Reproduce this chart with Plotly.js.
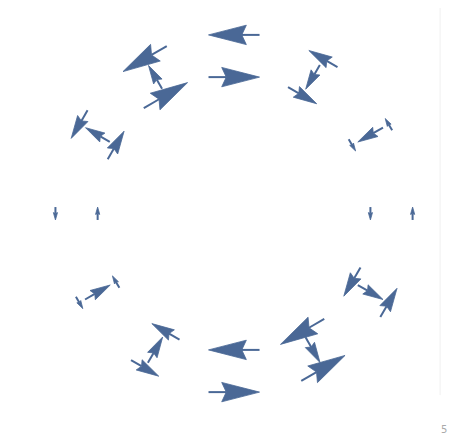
<!DOCTYPE html>
<html>
<head>
<meta charset="utf-8">
<script src="https://cdn.plot.ly/plotly-3.0.1.min.js"></script>
<style>
  html, body { margin: 0; padding: 0; background: #ffffff; }
  #chart { width: 450px; height: 441px; }
</style>
</head>
<body>
<div id="chart"></div>
<script>
//#region data
// arrow centres (data units), three rings: inner, middle, outer
const pointX = [
    4.33, 5.00, 5.67,   3.75, 4.33, 4.91,   2.17, 2.50, 2.83,   0.00, 0.00, 0.00,
    -2.17, -2.50, -2.83,   -3.75, -4.33, -4.91,   -4.33, -5.00, -5.67,   -3.75, -4.33, -4.91,
    -2.17, -2.50, -2.83,   0.00, 0.00, 0.00,   2.17, 2.50, 2.83,   3.75, 4.33, 4.91
];
const pointY = [
    0.00, 0.00, 0.00,   2.17, 2.50, 2.83,   3.75, 4.33, 4.91,   4.33, 5.00, 5.67,
    3.75, 4.33, 4.91,   2.17, 2.50, 2.83,   0.00, 0.00, 0.00,   -2.17, -2.50, -2.83,
    -3.75, -4.33, -4.91,   -4.33, -5.00, -5.67,   -3.75, -4.33, -4.91,   -2.17, -2.50, -2.83
];
// vector components
const vecU = [
    0.00, 0.00, 0.00,   0.22, -0.80, -0.22,   0.91, -0.45, -0.91,   1.62, 0.00, -1.62,
    1.39, -0.43, -1.39,   0.52, -0.77, -0.52,   0.00, 0.00, 0.00,   -0.22, 0.80, 0.22,
    -0.88, 0.47, 0.88,   -1.62, 0.00, 1.62,   -1.39, 0.46, 1.39,   -0.53, 0.80, 0.53
];
const vecV = [
    -0.41, 0.00, 0.41,   -0.37, -0.46, 0.37,   -0.53, -0.77, 0.53,   0.00, 0.00, 0.00,
    0.81, 0.74, -0.81,   0.89, 0.45, -0.89,   0.41, 0.00, -0.41,   0.38, 0.46, -0.38,
    0.51, 0.82, -0.51,   0.00, 0.00, 0.00,   -0.81, -0.80, 0.81,   -0.91, -0.46, 0.91
];
//#endregion

const arrowColor = '#4a6896';

//#region build arrows
const shaftX = [], shaftY = [], headX = [], headY = [];

for (let i = 0; i < pointX.length; i++) {
    const u = vecU[i], v = vecV[i];
    const len = Math.hypot(u, v);
    if (len < 1e-6) continue;
    const dx = u / len, dy = v / len;      // direction
    const nx = -dy, ny = dx;               // normal
    const tailX = pointX[i] - u / 2, tailY = pointY[i] - v / 2;
    const tipX = pointX[i] + u / 2, tipY = pointY[i] + v / 2;

    const headLen = Math.max(0.8 * len - 0.095, 0.55 * len);
    const halfW = Math.max(0.2 * len - 0.016, 0.05);
    const baseX = tipX - headLen * dx, baseY = tipY - headLen * dy;
    const notchX = tipX - 0.88 * headLen * dx, notchY = tipY - 0.88 * headLen * dy;

    shaftX.push(tailX, notchX, null);
    shaftY.push(tailY, notchY, null);

    headX.push(tipX, baseX + halfW * nx, notchX, baseX - halfW * nx, tipX, null);
    headY.push(tipY, baseY + halfW * ny, notchY, baseY - halfW * ny, tipY, null);
}
//#endregion

//#region plot
const traceShafts = {
    x: shaftX, y: shaftY, type: 'scatter', mode: 'lines',
    line: { color: arrowColor, width: 2 }, hoverinfo: 'skip', showlegend: false
};
const traceHeads = {
    x: headX, y: headY, type: 'scatter', mode: 'lines', fill: 'toself',
    fillcolor: arrowColor, line: { color: arrowColor, width: 0.8 },
    hoverinfo: 'skip', showlegend: false
};

const hiddenAxis = {
    visible: false, showgrid: false, zeroline: false, showticklabels: false, fixedrange: true
};

const layout = {
    width: 450, height: 441,
    paper_bgcolor: '#ffffff', plot_bgcolor: '#ffffff',
    margin: { l: 0, r: 0, t: 0, b: 0 },
    xaxis: { ...hiddenAxis, range: [-7.43, 6.857] },
    yaxis: { ...hiddenAxis, range: [-7.222, 6.778] },
    shapes: [
        { type: 'line', xref: 'paper', yref: 'paper', x0: 0.978, x1: 0.978, y0: 0.104, y1: 0.982,
          line: { color: '#f0f0f0', width: 1 } }
    ],
    annotations: [
        { xref: 'paper', yref: 'paper', x: 0.998, y: 0.025, text: '5', showarrow: false,
          xanchor: 'right', yanchor: 'middle', font: { family: 'DejaVu Sans', size: 10, color: '#aaaaaa' } }
    ]
};

Plotly.newPlot('chart', [traceShafts, traceHeads], layout, { staticPlot: true, displayModeBar: false });
//#endregion
</script>
</body>
</html>
